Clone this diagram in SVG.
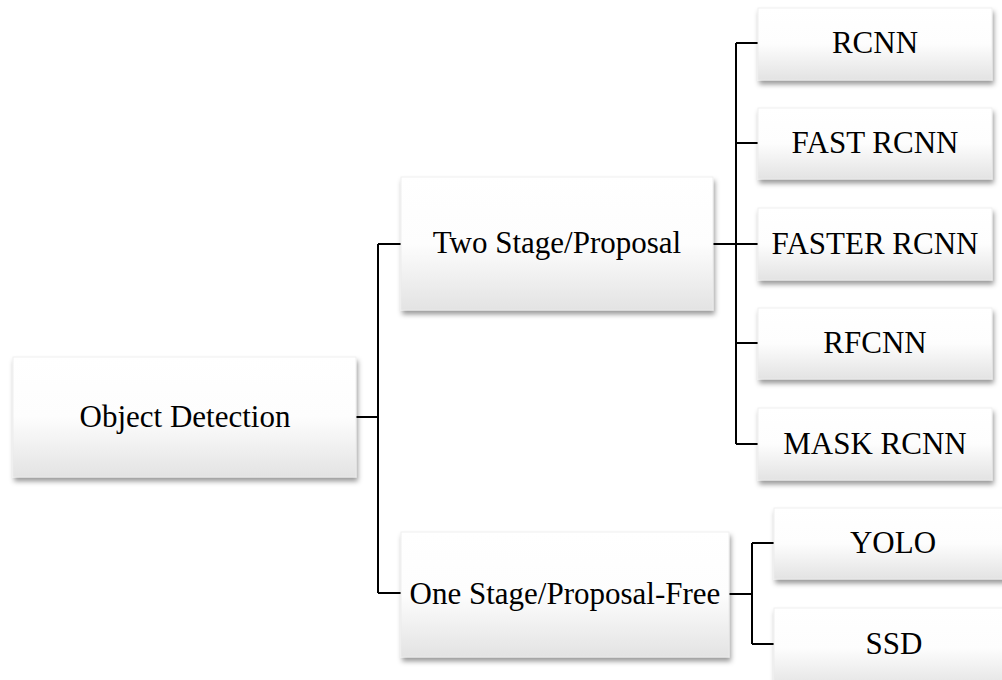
<svg xmlns="http://www.w3.org/2000/svg" width="1002" height="680" viewBox="0 0 1002 680">
  <defs>
    <linearGradient id="boxFill" x1="0" y1="0" x2="0" y2="1">
      <stop offset="0" stop-color="#ffffff"/>
      <stop offset="0.5" stop-color="#fdfdfd"/>
      <stop offset="1" stop-color="#e3e3e3"/>
    </linearGradient>
    <filter id="shadow" x="-10%" y="-10%" width="125%" height="135%">
      <feDropShadow dx="1.5" dy="4" stdDeviation="2.5" flood-color="#000" flood-opacity="0.4"/>
    </filter>
  </defs>
  <style>
    .box { fill: url(#boxFill); stroke: #ececec; stroke-width: 0.8; filter: url(#shadow); }
    .label { font-size: 31px; fill: #000; text-anchor: middle; }
    .link { fill: none; stroke: #000; stroke-width: 2; }
  </style>
  <rect width="1002" height="680" fill="#ffffff"/>

  <!-- tree connectors -->
  <g id="connectors">
    <path class="link" d="M356 417 H378 M378 244 V593 M378 244 H401 M378 593 H401"/>
    <path class="link" d="M713 244 H736 M736 43 V444 M736 43 H758 M736 143 H758 M736 244 H758 M736 343 H758 M736 444 H758"/>
    <path class="link" d="M729 594 H752 M752 543 V644 M752 543 H774 M752 644 H774"/>
  </g>

  <g id="nodes" font-family="Liberation Serif, Times New Roman, DejaVu Serif, serif">
    <g id="object-detection">
      <rect class="box" x="13" y="357" width="343" height="120"/>
      <text class="label" x="185" y="427">Object Detection</text>
    </g>

    <g id="two-stage">
      <rect class="box" x="401" y="177" width="312" height="133"/>
      <text class="label" x="557" y="253">Two Stage/Proposal</text>
    </g>

    <g id="one-stage">
      <rect class="box" x="401" y="532" width="328" height="125"/>
      <text class="label" x="565" y="604">One Stage/Proposal-Free</text>
    </g>

    <g id="rcnn">
      <rect class="box" x="758" y="8" width="234" height="72"/>
      <text class="label" x="875" y="53">RCNN</text>
    </g>

    <g id="fast-rcnn">
      <rect class="box" x="758" y="108" width="234" height="71"/>
      <text class="label" x="875" y="153">FAST RCNN</text>
    </g>

    <g id="faster-rcnn">
      <rect class="box" x="758" y="208" width="234" height="72"/>
      <text class="label" x="875" y="254">FASTER RCNN</text>
    </g>

    <g id="rfcnn">
      <rect class="box" x="758" y="308" width="234" height="71"/>
      <text class="label" x="875" y="353">RFCNN</text>
    </g>

    <g id="mask-rcnn">
      <rect class="box" x="758" y="408" width="234" height="72"/>
      <text class="label" x="875" y="454">MASK RCNN</text>
    </g>

    <g id="yolo">
      <rect class="box" x="774" y="508" width="238" height="71"/>
      <text class="label" x="893" y="553">YOLO</text>
    </g>

    <g id="ssd">
      <rect class="box" x="774" y="608" width="238" height="80"/>
      <text class="label" x="894" y="654">SSD</text>
    </g>
  </g>
</svg>
